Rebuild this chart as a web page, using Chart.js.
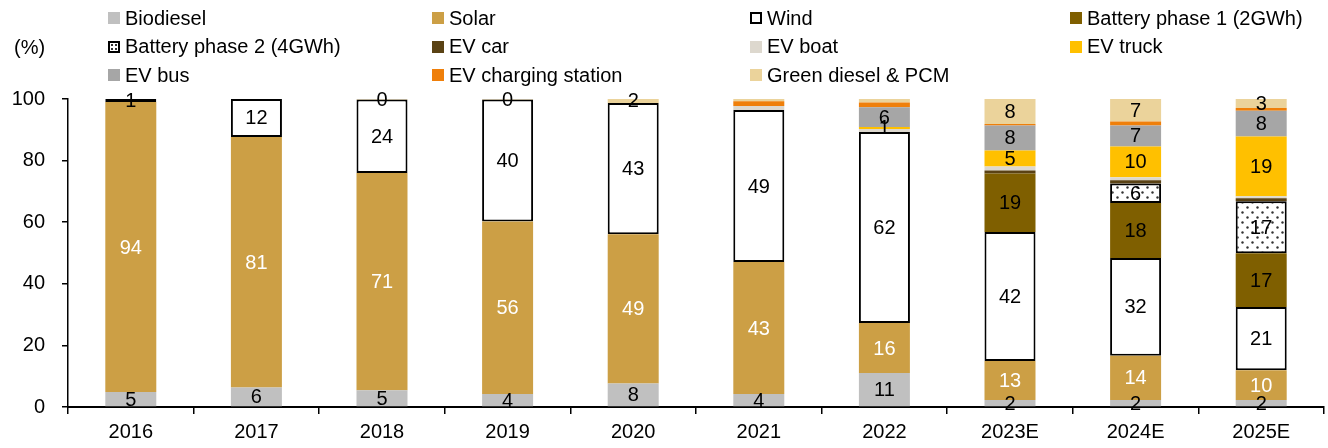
<!DOCTYPE html>
<html>
<head>
<meta charset="utf-8">
<script src="https://cdn.jsdelivr.net/npm/chart.js@4"></script>
<style>
  body { margin: 0; background: #fff; font-family: 'Liberation Sans', Arial, sans-serif; }
  #wrap { position: relative; width: 1328px; height: 448px; }
  #unit { position: absolute; left: 14px; top: 36px; font-size: 20px; color: #000; }
  #legend { position: absolute; left: 108px; top: 4px; display: grid;
            grid-template-columns: 324px 318px 320px auto; grid-auto-rows: 28.5px; }
  .item { display: flex; align-items: center; font-size: 20px; color: #000; white-space: nowrap; }
  .box { width: 12px; height: 12px; margin-right: 5px; box-sizing: border-box; flex: none; }
</style>
</head>
<body>
<div id="wrap">
  <canvas id="mix" width="1328" height="448"></canvas>
  <div id="unit">(%)</div>
  <div id="legend"></div>
</div>
<script>
const years = ['2016', '2017', '2018', '2019', '2020', '2021', '2022', '2023E', '2024E', '2025E'];

const biodiesel     = [4.9, 6.3, 5.4, 4.2, 7.6, 4.2, 11, 2.3, 2.3, 2.3];
const solar         = [94.1, 81.4, 70.6, 56.0, 48.5, 42.9, 16.3, 12.6, 14.3, 9.6];
const wind          = [1.0, 12.3, 23.8, 39.6, 42.6, 49.3, 62, 41.9, 31.8, 20.6];
const batteryPhase1 = [0, 0, 0, 0, 0, 0, 0, 19, 17.8, 17.4];
const batteryPhase2 = [0, 0, 0, 0, 0, 0, 0, 0, 6.4, 16.9];
const evCar         = [0, 0, 0, 0, 0, 0, 0, 1, 1, 1];
const evBoat        = [0, 0, 0, 0, 0, 1.3, 1, 1.3, 1, 0.6];
const evTruck       = [0, 0, 0, 0, 0, 0, 0.6, 5.2, 10, 19.4];
const evBus         = [0, 0, 0, 0, 0, 0, 6.4, 8.1, 6.8, 8.4];
const evCharging    = [0, 0, 0, 0, 0, 1.6, 1.6, 0.5, 1.3, 0.9];
const greenDiesel   = [0, 0, 0.2, 0.2, 1.5, 0.7, 1.1, 8.1, 7.3, 3.2];

const yTicks = [0, 20, 40, 60, 80, 100];

// series drawn without value labels, and single points without labels
const unlabeled = ['EV car', 'EV boat', 'EV charging station'];
const unlabeledPoints = [['Green diesel & PCM', '2021'], ['Green diesel & PCM', '2022']];

document.addEventListener('DOMContentLoaded', function () {
  Chart.defaults.font.family = "'Liberation Sans', Arial, sans-serif";
  Chart.defaults.font.size = 20;
  Chart.defaults.color = '#000';

  // dotted fill for battery phase 2
  const pc = document.createElement('canvas');
  pc.width = 10; pc.height = 10;
  const p = pc.getContext('2d');
  p.fillStyle = '#fff';
  p.fillRect(0, 0, 10, 10);
  p.fillStyle = '#333';
  [[2.5, 2.5], [7.5, 7.5]].forEach(d => { p.beginPath(); p.arc(d[0], d[1], 1.2, 0, Math.PI * 2); p.fill(); });
  const ctx = document.getElementById('mix').getContext('2d');
  const dots = ctx.createPattern(pc, 'repeat');

  const outlined = { borderColor: '#000', borderWidth: 2, borderSkipped: false };

  const datasets = [
    { label: 'Biodiesel', data: biodiesel, backgroundColor: '#c0c0c0' },
    { label: 'Solar', data: solar, backgroundColor: '#cc9f45' },
    Object.assign({ label: 'Wind', data: wind, backgroundColor: '#fff' }, outlined),
    { label: 'Battery phase 1 (2GWh)', data: batteryPhase1, backgroundColor: '#7f5f00' },
    Object.assign({ label: 'Battery phase 2 (4GWh)', data: batteryPhase2, backgroundColor: dots }, outlined),
    { label: 'EV car', data: evCar, backgroundColor: '#5a4214' },
    { label: 'EV boat', data: evBoat, backgroundColor: '#ddd8ce' },
    { label: 'EV truck', data: evTruck, backgroundColor: '#ffc000' },
    { label: 'EV bus', data: evBus, backgroundColor: '#a6a6a6' },
    { label: 'EV charging station', data: evCharging, backgroundColor: '#ef7f0a' },
    { label: 'Green diesel & PCM', data: greenDiesel, backgroundColor: '#ebd39b' }
  ];

  const valueLabels = {
    id: 'valueLabels',
    afterDatasetsDraw(chart) {
      const c = chart.ctx;
      c.save();
      c.font = "20px 'Liberation Sans', Arial, sans-serif";
      c.textAlign = 'center';
      c.textBaseline = 'middle';
      chart.data.datasets.forEach((ds, i) => {
        if (unlabeled.includes(ds.label)) return;
        chart.getDatasetMeta(i).data.forEach((bar, j) => {
          const v = ds.data[j];
          if (!v) return;
          if (unlabeledPoints.some(u => u[0] === ds.label && u[1] === years[j])) return;
          c.fillStyle = ds.label === 'Solar' ? '#fff' : '#000';
          c.fillText(String(Math.round(v)), bar.x, (bar.y + bar.base) / 2 + 1);
        });
      });
      c.restore();
    }
  };

  new Chart(ctx, {
    type: 'bar',
    data: { labels: years, datasets: datasets },
    options: {
      responsive: false,
      animation: false,
      layout: { padding: { top: 99, right: 4, left: 0, bottom: 0 } },
      datasets: { bar: { categoryPercentage: 1, barPercentage: 0.406, borderWidth: 0 } },
      plugins: { legend: { display: false }, tooltip: { enabled: false } },
      scales: {
        x: {
          stacked: true,
          grid: { drawOnChartArea: false, color: '#000', tickLength: 7, lineWidth: 1.5 },
          border: { color: '#000', width: 2 },
          ticks: { padding: 6, color: '#000' },
          afterFit(scale) { scale.height = 41; }
        },
        y: {
          stacked: true,
          min: 0,
          max: 100,
          afterBuildTicks(scale) { scale.ticks = yTicks.map(v => ({ value: v })); },
          grid: { drawOnChartArea: false, color: '#000', tickLength: 6, lineWidth: 1.5 },
          border: { color: '#000', width: 1.5 },
          ticks: { padding: 17, color: '#000' },
          afterFit(scale) { scale.width = 68; }
        }
      }
    },
    plugins: [valueLabels]
  });

  // legend in four columns, like the source
  const legend = document.getElementById('legend');
  datasets.forEach(ds => {
    const item = document.createElement('div');
    item.className = 'item';
    const box = document.createElement('span');
    box.className = 'box';
    if (ds.label === 'Wind') {
      box.style.background = '#fff';
      box.style.border = '2px solid #000';
    } else if (ds.label.startsWith('Battery phase 2')) {
      box.style.border = '2px solid #000';
      box.style.background = 'radial-gradient(circle, #333 30%, #fff 32%) 0 0 / 4px 4px';
    } else {
      box.style.background = ds.backgroundColor;
    }
    item.appendChild(box);
    item.appendChild(document.createTextNode(ds.label));
    legend.appendChild(item);
  });
});
</script>
</body>
</html>
